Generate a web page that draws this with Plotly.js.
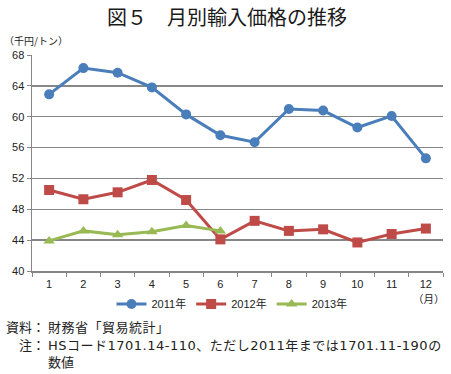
<!DOCTYPE html>
<html><head><meta charset="utf-8">
<script src="https://cdn.plot.ly/plotly-3.0.1.min.js"></script>
<style>body{margin:0;background:#fff}#c{width:451px;height:374px}</style>
</head><body><div id="c"></div>
<script>
const months = ['1','2','3','4','5','6','7','8','9','10','11','12'];
const y2011 = [62.9, 66.3, 65.7, 63.8, 60.3, 57.6, 56.7, 61.0, 60.8, 58.6, 60.1, 54.6];
const y2012 = [50.5, 49.3, 50.2, 51.8, 49.2, 44.1, 46.5, 45.2, 45.4, 43.7, 44.8, 45.5];
const y2013 = [43.9, 45.2, 44.7, 45.1, 45.9, 45.2];
const seriesNames = ['2011年', '2012年', '2013年'];
const yTicks = [40, 44, 48, 52, 56, 60, 64, 68];

const F = '"Noto Sans CJK JP", "Noto Sans", sans-serif';
const FL = '"Liberation Sans", "Noto Sans CJK JP", sans-serif';
const FN = '"DejaVu Sans", "Noto Sans CJK JP", sans-serif';
const traces = [
  {x: months, y: y2011, name: seriesNames[0], mode: 'lines+markers',
   line: {color: '#4A7EBB', width: 3}, marker: {symbol: 'circle', size: 10, color: '#4A7EBB'}},
  {x: months, y: y2012, name: seriesNames[1], mode: 'lines+markers',
   line: {color: '#BE4B48', width: 3}, marker: {symbol: 'square', size: 10, color: '#BE4B48'}},
  {x: months.slice(0, y2013.length), y: y2013, name: seriesNames[2], mode: 'lines+markers',
   line: {color: '#98B954', width: 3}, marker: {symbol: 'triangle-up', size: 10, color: '#98B954'}}
];
const PX = px => (px - 32) / 411;
const PY = py => (271 - py) / 216;
const note = (text, px, py, anchor) => ({text, xref: 'paper', yref: 'paper', x: PX(px), y: PY(py),
  xanchor: anchor || 'left', align: anchor || 'left', yanchor: 'middle', showarrow: false,
  font: {size: 13, family: FN, color: '#222'}});
const layout = {
  width: 451, height: 374,
  margin: {l: 32, r: 8, t: 55, b: 103},
  paper_bgcolor: '#fff', plot_bgcolor: '#fff',
  font: {family: FL, size: 11, color: '#222'},
  title: {text: '図５　月別輸入価格の推移', x: PX(227), xref: 'paper', xanchor: 'center', y: 1 - 18/374, yref: 'container',
          yanchor: 'middle', font: {family: F, size: 20, color: '#1a1a1a'}},
  xaxis: {type: 'category', range: [-0.5, 11.5], tickson: 'boundaries', ticks: 'outside', ticklen: 4,
          tickcolor: '#868686', showline: true, linecolor: '#868686', linewidth: 1.5, ticklabelstandoff: 2,
          showgrid: false, zeroline: false, tickfont: {size: 11, family: FL}, fixedrange: true},
  yaxis: {range: [40, 68], tickvals: yTicks, ticks: 'outside', ticklen: 4, tickcolor: '#868686',
          showline: true, linecolor: '#868686', linewidth: 1.5, showgrid: true, gridcolor: '#868686',
          gridwidth: 1.5, zeroline: false, tickfont: {size: 11, family: FL}, fixedrange: true},
  showlegend: true,
  legend: {orientation: 'h', x: PX(232), xanchor: 'center', y: PY(304), yanchor: 'middle',
           font: {size: 11, family: FL}, traceorder: 'normal', itemwidth: 30},
  annotations: [
    {text: '（千円/トン）', xref: 'paper', yref: 'paper', x: PX(2), y: PY(40), xanchor: 'left', yanchor: 'middle',
     showarrow: false, font: {size: 10, family: F}},
    {text: '（月）', xref: 'paper', yref: 'paper', x: PX(447), y: PY(298), xanchor: 'right', yanchor: 'middle',
     showarrow: false, font: {size: 10.5, family: F}},
    note('資料：', 47, 327, 'right'),
    note('財務省「貿易統計」', 46, 327),
    note('注：', 47, 345, 'right'),
    note('HSコード1701.14-110、ただし2011年までは1701.11-190の', 46, 345),
    note('数値', 46, 362)
  ]
};
Plotly.newPlot('c', traces, layout, {displayModeBar: false, staticPlot: true}).then(gd => {
  const anns = gd.querySelectorAll('.annotation-text');
  [3, 5].forEach(i => { if (anns[i]) anns[i].style.letterSpacing = '0.5px'; });
});
</script></body></html>
